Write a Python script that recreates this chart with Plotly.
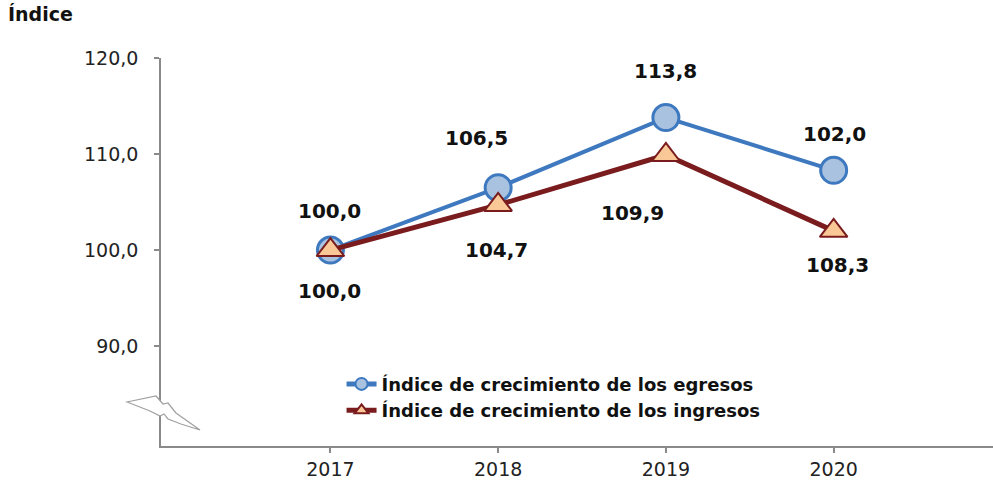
import plotly.graph_objects as go

# --- data -------------------------------------------------------------
years = [2017, 2018, 2019, 2020]
egresos = [100.0, 106.5, 113.8, 108.3]
ingresos = [100.0, 104.7, 109.9, 102.0]
y_ticks = [90, 100, 110, 120]

name_egr = "Índice de crecimiento de los egresos"
name_ing = "Índice de crecimiento de los ingresos"


def fmt(v):
    return f"{v:,.1f}".replace(".", ",")


# --- styles -----------------------------------------------------------
BLUE = "#3E79C0"
BLUE_FILL = "#A8C2DF"
RED = "#7A1C1E"
RED_FILL = "#F9C896"
AXIS = "#8A8A8A"
FONT = "DejaVu Sans"

fig = go.Figure()
fig.add_trace(go.Scatter(
    x=years, y=egresos, name=f"<b>{name_egr}</b>", mode="lines+markers",
    line=dict(color=BLUE, width=4),
    marker=dict(symbol="circle", size=26, color=BLUE_FILL,
                line=dict(color=BLUE, width=3)),
))
fig.add_trace(go.Scatter(
    x=years, y=ingresos, name=f"<b>{name_ing}</b>", mode="lines+markers",
    line=dict(color=RED, width=5),
    marker=dict(symbol="triangle-up", size=24, color=RED_FILL,
                line=dict(color=RED, width=2)),
))

# --- data labels ------------------------------------------------------
# The upper labels sit above the egresos markers, the lower ones below the
# ingresos markers; in the final year the two values trade places.
upper_text = [fmt(v) for v in egresos]
lower_text = [fmt(v) for v in ingresos]
upper_text[-1], lower_text[-1] = lower_text[-1], upper_text[-1]

upper_shift = [(-1, 39), (-22, 50), (0, 47), (1, 36)]
lower_shift = [(-1, -41), (-2, -45), (-33, -58), (4, -34)]

label_font = dict(family=FONT, size=20, color="#111111")
for i, yr in enumerate(years):
    fig.add_annotation(x=yr, y=egresos[i], text=f"<b>{upper_text[i]}</b>",
                       showarrow=False, font=label_font,
                       xshift=upper_shift[i][0], yshift=upper_shift[i][1])
    fig.add_annotation(x=yr, y=ingresos[i], text=f"<b>{lower_text[i]}</b>",
                       showarrow=False, font=label_font,
                       xshift=lower_shift[i][0], yshift=lower_shift[i][1])

# --- axis break marker on the value axis -------------------------------
W, H, L, B = 832.0, 388.0, 161.0, 446.0


def px(xp, yp):
    return f"{(xp - L) / W:.4f},{(B - yp) / H:.4f}"


bolt = [(127, 402), (156, 396), (163, 404), (168, 403), (176, 413),
        (200, 430), (181, 424), (168, 419), (164, 414), (160, 416),
        (150, 411)]
path = "M " + " L ".join(px(a, b) for a, b in bolt) + " Z"
fig.add_shape(type="path", path=path, xref="paper", yref="paper",
              fillcolor="white", line=dict(color="#A0A0A0", width=1.2),
              layer="above")

fig.update_layout(
    width=993, height=482,
    margin=dict(l=161, r=0, t=58, b=36),
    paper_bgcolor="white", plot_bgcolor="white",
    font=dict(family=FONT, color="#222222"),
    title=dict(text="<b>Índice</b>", x=8 / 993, y=1 - 8 / 482,
               xref="container", yref="container",
               xanchor="left", yanchor="top",
               font=dict(family=FONT, size=19, color="#111111")),
    showlegend=True,
    legend=dict(x=0.217, y=0.207, xanchor="left", yanchor="top",
                bgcolor="rgba(0,0,0,0)", borderwidth=0,
                font=dict(family=FONT, size=18, color="#111111"),
                itemsizing="constant", tracegroupgap=0),
    xaxis=dict(range=[2015.99, 2020.95], tickvals=years,
               ticktext=[str(y) for y in years],
               showgrid=False, zeroline=False,
               showline=True, linecolor=AXIS, linewidth=1.5,
               ticks="outside", ticklen=5, tickcolor=AXIS, tickwidth=1.5,
               tickfont=dict(family=FONT, size=19, color="#222222")),
    yaxis=dict(range=[79.6, 120], tickvals=y_ticks,
               ticktext=[fmt(v) for v in y_ticks],
               showgrid=False, zeroline=False,
               showline=True, linecolor=AXIS, linewidth=1.5,
               ticks="outside", ticklen=5, tickcolor=AXIS, tickwidth=1.5,
               tickfont=dict(family=FONT, size=19, color="#222222"),
               ticklabelstandoff=12),
)

fig.write_html("out.html")
